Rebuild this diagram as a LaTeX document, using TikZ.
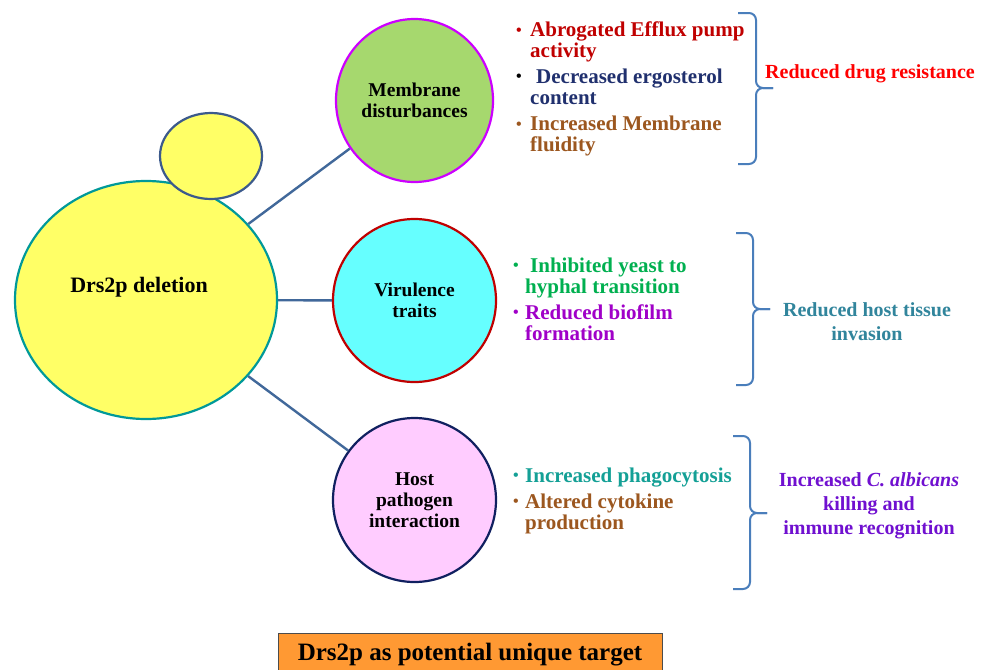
\documentclass[tikz,border=0pt]{standalone}
\usepackage{fontspec}
\setmainfont{Liberation Serif}
\usetikzlibrary{shapes.geometric}
\definecolor{cBigFill}{RGB}{255,255,102}
\definecolor{cBigLine}{RGB}{0,153,153}
\definecolor{cBudLine}{RGB}{60,90,140}
\definecolor{cMemFill}{RGB}{166,216,110}
\definecolor{cMemLine}{RGB}{204,0,255}
\definecolor{cVirFill}{RGB}{102,255,255}
\definecolor{cVirLine}{RGB}{192,0,0}
\definecolor{cHostFill}{RGB}{255,204,255}
\definecolor{cHostLine}{RGB}{16,32,96}
\definecolor{cConn}{RGB}{65,104,154}
\definecolor{cBrace}{RGB}{74,126,187}
\definecolor{cAbr}{RGB}{192,0,0}
\definecolor{cNavy}{RGB}{32,48,110}
\definecolor{cBrown}{RGB}{156,87,31}
\definecolor{cGreen}{RGB}{0,176,80}
\definecolor{cPurp}{RGB}{160,0,200}
\definecolor{cTeal}{RGB}{20,160,150}
\definecolor{cRed}{RGB}{255,0,0}
\definecolor{cTissue}{RGB}{49,133,156}
\definecolor{cViolet}{RGB}{112,16,208}
\definecolor{cOrange}{RGB}{255,153,51}
\begin{document}
\begin{tikzpicture}[x=1pt,y=-1pt,
  circ/.style={ellipse,inner sep=0pt,line width=2.2pt,align=center,
    font=\bfseries\fontsize{19.5}{21}\selectfont},
  conn/.style={draw=cConn,line width=2.4pt},
  brc/.style={draw=cBrace,line width=2pt,rounded corners=7pt},
  li/.style={anchor=base west,align=left,inner sep=0pt,font=\bfseries\fontsize{21}{21}\selectfont},
  bul/.style={anchor=base,inner sep=0pt,yshift=1.6pt,font=\bfseries\fontsize{16}{16}\selectfont},
  res/.style={anchor=base,align=center,inner sep=0pt,font=\bfseries\fontsize{20}{24}\selectfont}]
\useasboundingbox (0,0) rectangle (989,670);
\clip (0,0) rectangle (989,670);
\fill[white] (0,0) rectangle (989,670);

% main nodes
\node[circ,fill=cBigFill,draw=cBigLine,minimum width=262pt,minimum height=238pt] (drs) at (146,300) {};
\node[circ,fill=cBigFill,draw=cBudLine,minimum width=102pt,minimum height=86pt] (bud) at (211,156) {};
\node[anchor=base,inner sep=0pt,font=\bfseries\fontsize{22}{24}\selectfont] (drslbl) at (139,292.7) {Drs2p deletion};

\node[circ,fill=cMemFill,draw=cMemLine,minimum width=157pt,minimum height=163pt] (mem) at (414.5,100.5) {Membrane\\disturbances};
\node[circ,fill=cVirFill,draw=cVirLine,minimum width=163pt,minimum height=163pt] (vir) at (414.5,300.5) {Virulence\\traits};
\node[circ,fill=cHostFill,draw=cHostLine,minimum width=163pt,minimum height=164pt] (host) at (414.5,500) {Host\\pathogen\\interaction};

\draw[conn] (drs) -- (mem);
\draw[conn] (drs) -- (vir);
\draw[conn] (drs) -- (host);

% list 1 (multi-line nodes anchored on the baseline of their last line)
\node[bul,text=cAbr] (u1) at (519,36.7) {•};
\node[li,text=cAbr] (t1) at (530,57.7) {Abrogated Efflux pump\\activity};
\node[bul,text=black] (u2) at (519,82.7) {•};
\node[li,text=cNavy] (t2) at (530,104) {\hspace*{6pt}Decreased ergosterol\\content};
\node[bul,text=cBrown] (u3) at (519,130.7) {•};
\node[li,text=cBrown] (t3) at (530,151.7) {Increased Membrane\\fluidity};

% list 2
\node[bul,text=cGreen] (u4) at (516,271.7) {•};
\node[li,text=cGreen] (t4) at (525,293.3) {\hspace*{5pt}Inhibited yeast to\\hyphal transition};
\node[bul,text=cPurp] (u5) at (516,319.3) {•};
\node[li,text=cPurp] (t5) at (525,340.7) {Reduced biofilm\\formation};

% list 3
\node[bul,text=cTeal] (u6) at (516,482.3) {•};
\node[li,text=cTeal] (t6) at (525,482.3) {Increased phagocytosis};
\node[bul,text=cBrown] (u7) at (516,507.7) {•};
\node[li,text=cBrown] (t7) at (525,529.3) {Altered cytokine\\production};

% braces
\coordinate (b1t) at (738,13);
\coordinate (b1m) at (773,88);
\coordinate (b1b) at (738,164);
\draw[brc] (b1t) -| (756,88) -- (b1m);
\draw[brc] (b1m) -- (756,88) |- (b1b);
\coordinate (b2t) at (736,233);
\coordinate (b2m) at (770,309);
\coordinate (b2b) at (736,385);
\draw[brc] (b2t) -| (753,309) -- (b2m);
\draw[brc] (b2m) -- (753,309) |- (b2b);
\coordinate (b3t) at (733,436);
\coordinate (b3m) at (767,513);
\coordinate (b3b) at (733,589);
\draw[brc] (b3t) -| (750,513) -- (b3m);
\draw[brc] (b3m) -- (750,513) |- (b3b);

% results
\node[res,text=cRed] (r1) at (870,78.3) {Reduced drug resistance};
\node[res,text=cTissue] (r2) at (867,340) {Reduced host tissue\\invasion};
\node[res,text=cViolet] (r3) at (869,534) {Increased \textit{C. albicans}\\killing and\\immune recognition};

% bottom box
\node[draw=black!70,line width=0.8pt,fill=cOrange,minimum width=384pt,minimum height=42pt,inner sep=0pt] (target) at (470,654) {};
\node[anchor=base,inner sep=0pt,font=\bfseries\fontsize{25}{27}\selectfont] (targetlbl) at (470,660) {Drs2p as potential unique target};
\end{tikzpicture}
\end{document}
